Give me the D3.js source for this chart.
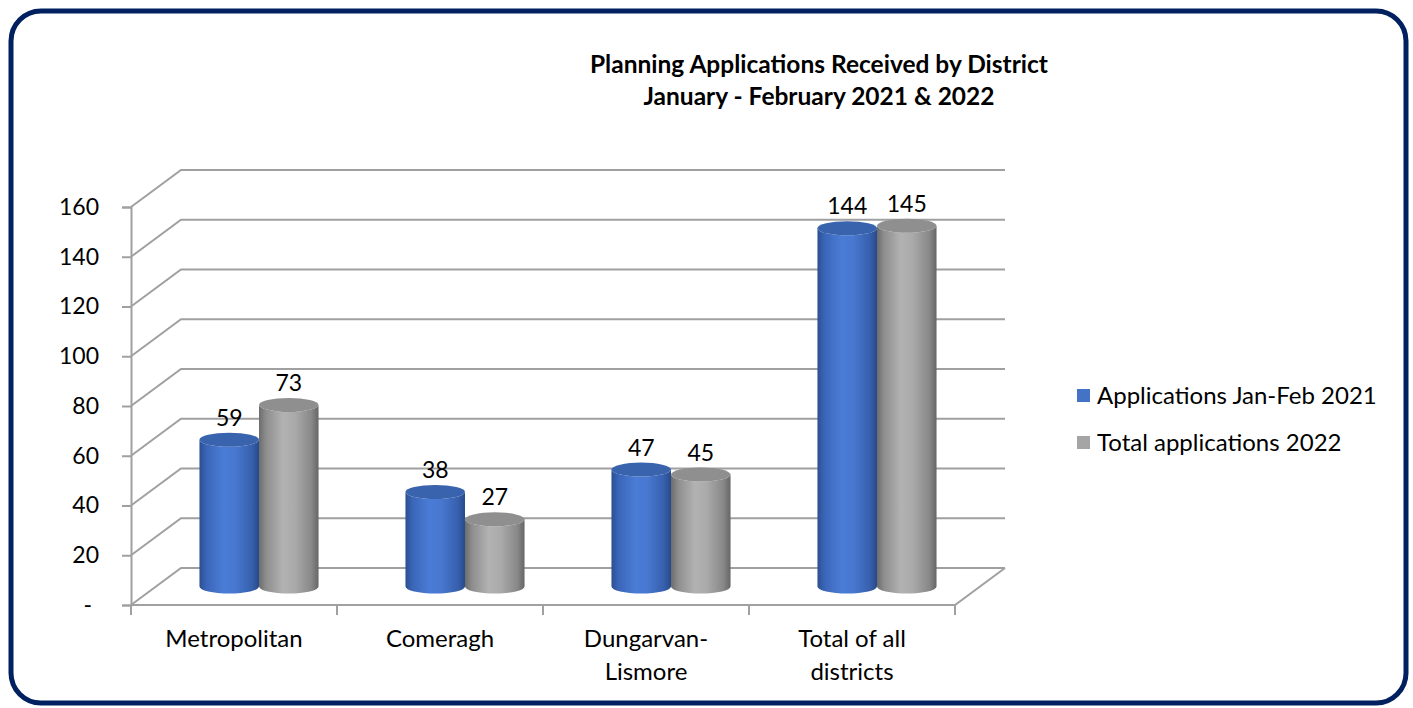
<!DOCTYPE html>
<html>
<head>
<meta charset="utf-8">
<script src="https://cdn.jsdelivr.net/npm/d3@7"></script>
<style>
  body { margin: 0; background: #fff; }
  text { font-family: Lato, "Open Sans", sans-serif; fill: #000; }
</style>
</head>
<body>
<div class="container"></div>
<script>
const districts = [['Metropolitan'], ['Comeragh'], ['Dungarvan-', 'Lismore'], ['Total of all', 'districts']];
const seriesNames = ['Applications Jan-Feb 2021', 'Total applications 2022'];
const apps2021 = [59, 38, 47, 144];
const apps2022 = [73, 27, 45, 145];
const yTicks = [0, 20, 40, 60, 80, 100, 120, 140, 160];
const titleLines = ['Planning Applications Received by District', 'January - February 2021 & 2022'];

const renderChart = () => {
  const width = 1413;
  const height = 708;
  const depthX = 50;
  const depthY = 37;
  const left = 131;
  const right = 955;
  const top = 207;
  const bottom = 605;

  const svg = d3.select('.container').append('svg').attr('width', width).attr('height', height);
  const defs = svg.append('defs');

  // outer rounded frame
  svg.append('rect')
    .attr('x', 11).attr('y', 11).attr('width', 1395).attr('height', 692)
    .attr('rx', 30).attr('ry', 30)
    .attr('fill', 'none').attr('stroke', '#002060').attr('stroke-width', 5);

  const title = svg.append('text').attr('text-anchor', 'middle').attr('font-weight', 'bold').attr('font-size', 24.5);
  titleLines.forEach((t, i) => title.append('tspan').attr('x', 819).attr('y', 73 + i * 32).text(t));

  const names = districts.map(d => d.join(' '));
  const xScale = d3.scaleBand().domain(names).range([left, right]);
  const inner = d3.scaleBand().domain(seriesNames).range([0, xScale.bandwidth()]).paddingOuter(0.73);
  const yScale = d3.scaleLinear().domain([0, 160]).range([bottom, top]);

  // walls / gridlines
  const grid = svg.append('g').attr('class', 'grid').attr('stroke', '#a0a0a0').attr('stroke-width', 2).attr('fill', 'none');
  yTicks.forEach(v => {
    const y = yScale(v);
    grid.append('path').attr('d', `M${left},${y}L${left + depthX},${y - depthY}L${right + depthX},${y - depthY}`);
  });
  grid.append('path').attr('d', `M${left},${bottom}L${right},${bottom}L${right + depthX},${bottom - depthY}`);

  // left axis
  const leftAxis = d3.axisLeft(yScale).tickValues(yTicks).tickSize(9).tickPadding(23)
    .tickFormat(d => (d === 0 ? '-' : d));
  const leftG = svg.append('g').attr('transform', `translate(${left},0)`).call(leftAxis);
  leftG.select('.domain').attr('stroke', '#a0a0a0').attr('stroke-width', 2);
  leftG.selectAll('.tick line').attr('stroke', '#a0a0a0').attr('stroke-width', 2);
  leftG.selectAll('.tick text').attr('font-size', 23).attr('font-family', 'Lato').attr('fill', '#000');
  leftG.selectAll('.tick text').filter(d => d === 0).attr('dx', -7);

  // bottom ticks & labels
  const bottomG = svg.append('g');
  d3.range(districts.length + 1).forEach(i => {
    const x = left + i * xScale.step();
    bottomG.append('line').attr('x1', x).attr('x2', x).attr('y1', bottom).attr('y2', bottom + 10)
      .attr('stroke', '#a0a0a0').attr('stroke-width', 2);
  });
  districts.forEach((lines, i) => {
    const t = bottomG.append('text').attr('text-anchor', 'middle').attr('font-size', 24);
    lines.forEach((l, j) =>
      t.append('tspan').attr('x', xScale(names[i]) + xScale.bandwidth() / 2).attr('y', 647 + j * 33).text(l));
  });

  // gradients
  const makeGrad = (id, stops) => {
    const g = defs.append('linearGradient').attr('id', id).attr('x1', 0).attr('x2', 1).attr('y1', 0).attr('y2', 0);
    stops.forEach(([o, c]) => g.append('stop').attr('offset', o).attr('stop-color', c));
  };
  makeGrad('blueGrad', [[0, '#2b4f92'], [0.12, '#3b66b8'], [0.4, '#4a7cd6'], [0.6, '#4878d0'], [0.88, '#3760ad'], [1, '#284a8a']]);
  makeGrad('grayGrad', [[0, '#6c6c6c'], [0.12, '#8e8e8e'], [0.4, '#b2b2b2'], [0.6, '#aaaaaa'], [0.88, '#888888'], [1, '#666666']]);

  const series = [
    { name: seriesNames[0], values: apps2021, fill: 'url(#blueGrad)', topFill: '#3a63ad', key: '#4472c4' },
    { name: seriesNames[1], values: apps2022, fill: 'url(#grayGrad)', topFill: '#8f8f8f', key: '#a5a5a5' }
  ];

  const ry = 7;
  const bars = svg.append('g').attr('class', 'cylinders');
  const labels = svg.append('g').attr('class', 'labels');
  names.forEach((n, i) => {
    series.forEach(s => {
      const x0 = xScale(n) + inner(s.name) + depthX / 2;
      const x1 = x0 + inner.bandwidth();
      const rx = (x1 - x0) / 2;
      const yb = yScale(0) - depthY / 2;
      const yt = yScale(s.values[i]) - depthY / 2;
      bars.append('path')
        .attr('d', `M${x0},${yt}L${x0},${yb}A${rx},${ry} 0 0 0 ${x1},${yb}L${x1},${yt}A${rx},${ry} 0 0 1 ${x0},${yt}Z`)
        .attr('fill', s.fill);
      bars.append('ellipse').attr('cx', x0 + rx).attr('cy', yt).attr('rx', rx).attr('ry', ry).attr('fill', s.topFill);
      labels.append('text').attr('x', x0 + rx).attr('y', yt - 14).attr('text-anchor', 'middle').attr('font-size', 23)
        .text(s.values[i]);
    });
  });

  // legend
  const legend = svg.append('g').attr('class', 'legend');
  series.forEach((s, i) => {
    const y = 396 + i * 47;
    legend.append('rect').attr('x', 1077).attr('y', y - 7).attr('width', 13).attr('height', 13).attr('fill', s.key);
    legend.append('text').attr('x', 1097).attr('y', y + 8).attr('font-size', 24).text(s.name);
  });
};

renderChart();
</script>
</body>
</html>
